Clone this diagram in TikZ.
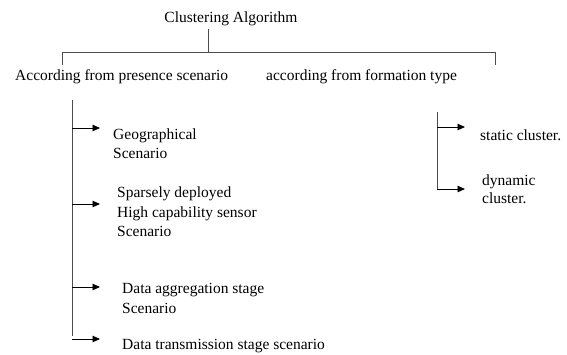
\documentclass[tikz,border=0pt]{standalone}
\usepackage{fontspec}
\setmainfont{Liberation Serif}
\usetikzlibrary{arrows.meta,positioning}

\begin{document}
\begin{tikzpicture}[x=1pt, y=-1pt,
  lbl/.style={inner sep=0pt, anchor=west, align=left, font=\fontsize{15.5}{19.5}\selectfont},
  tree/.style={draw=black!70, line width=0.9pt},
  branch/.style={-{Triangle[length=7.5pt,width=6.5pt]}, line width=0.9pt}]
  \useasboundingbox (0,0) rectangle (567,354);

  % Root and the two kinds
  \node[lbl, anchor=center] (root) at (231,19) {Clustering Algorithm};
  \node[lbl] (presence) at (15,77) {According from presence scenario};
  \node[lbl] (formation) at (266,77) {according from formation type};

  \coordinate (hub) at (208,52);
  \coordinate (hubleft) at (62,52);
  \coordinate (hubright) at (495,52);
  \draw[tree] ([yshift=-3pt]root.south -| hub) -- (hub);
  \draw[tree] ([yshift=-13pt]hubleft) -- (hubleft) -- (hubright) -- ([yshift=-13pt]hubright);

  % Presence scenario
  \node[lbl] (geo) at (113,143.5) {Geographical\\Scenario};
  \node[lbl] (sparse) at (117,212) {Sparsely deployed\\High capability sensor\\Scenario};
  \node[lbl] (aggr) at (122,298.5) {Data aggregation stage\\Scenario};
  \node[lbl] (trans) at (122,346) {Data transmission stage scenario};

  \coordinate (ltop) at (72,100);
  \coordinate (lbot) at (72,336);
  \draw[tree] (ltop) -- (lbot);
  \foreach \y/\n in {128/1, 204/2, 287/3, 339/4} {
    \coordinate (la\n) at (72,\y);
    \coordinate (lt\n) at (100,\y);
    \draw[branch] (la\n) -- (lt\n);
  }

  % Formation type
  \node[lbl] (static) at (480,135) {static cluster.};
  \node[lbl] (dynamic) at (482,189) {dynamic\\[-2pt]cluster.};

  \coordinate (rtop) at (437,112);
  \coordinate (rbot) at (437,189);
  \draw[tree] (rtop) -- (rbot);
  \foreach \y/\n in {127/1, 189/2} {
    \coordinate (ra\n) at (437,\y);
    \coordinate (rt\n) at (465,\y);
    \draw[branch] (ra\n) -- (rt\n);
  }
\end{tikzpicture}
\end{document}
